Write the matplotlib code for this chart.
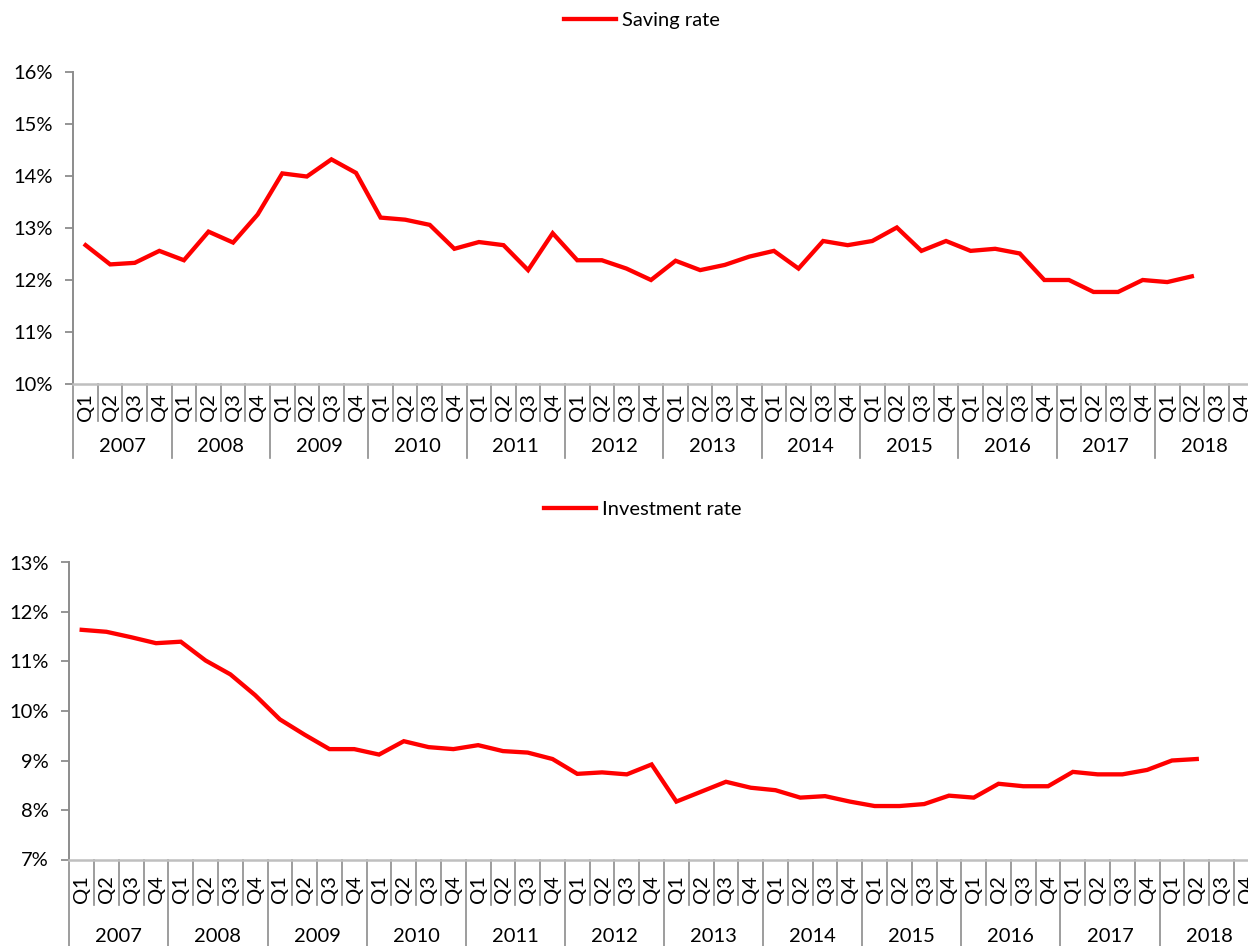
import matplotlib
matplotlib.use("Agg")
import matplotlib.pyplot as plt

plt.rcParams['font.family'] = ['Lato', 'DejaVu Sans']

# dados (%), 2007 Q1 ... 2018 Q2
anos = ['2007', '2008', '2009', '2010', '2011', '2012',
        '2013', '2014', '2015', '2016', '2017', '2018']
trimestres = ['Q1', 'Q2', 'Q3', 'Q4']

saving_rate = [12.67, 12.30, 12.33, 12.56, 12.38, 12.93, 12.72, 13.26,
               14.05, 13.99, 14.32, 14.06, 13.20, 13.16, 13.06, 12.60,
               12.73, 12.67, 12.19, 12.90, 12.38, 12.38, 12.22, 12.00,
               12.37, 12.19, 12.29, 12.45, 12.56, 12.22, 12.75, 12.67,
               12.75, 13.01, 12.56, 12.75, 12.56, 12.60, 12.51, 12.00,
               12.00, 11.77, 11.77, 12.00, 11.96, 12.07]

investment_rate = [11.64, 11.60, 11.49, 11.37, 11.40, 11.02, 10.74, 10.32,
                   9.83, 9.52, 9.23, 9.23, 9.12, 9.39, 9.27, 9.23,
                   9.31, 9.19, 9.16, 9.03, 8.73, 8.76, 8.72, 8.92,
                   8.17, 8.37, 8.57, 8.45, 8.40, 8.25, 8.28, 8.17,
                   8.08, 8.08, 8.12, 8.29, 8.25, 8.53, 8.48, 8.48,
                   8.77, 8.72, 8.72, 8.81, 9.00, 9.03]

W, H = 1248, 946
fig = plt.figure(figsize=(W / 100, H / 100), dpi=100)

VERMELHO = '#ff0000'
CINZA = '#8c8c8c'
CINZA_CLARO = '#bfbfbf'
FS = 14.5


def painel(rect_px, valores, ylim, label, leg_xy, q_off, qsep_off, ano_off, anosep_off):
    x0, y_top, x1, y_bot = rect_px
    ax = fig.add_axes([x0 / W, (H - y_bot) / H, (x1 - x0) / W, (y_bot - y_top) / H])
    altura = y_bot - y_top
    n_cat = len(anos) * len(trimestres)
    xs = [i + 0.5 for i in range(len(valores))]
    ax.plot(xs, valores, color=VERMELHO, lw=3.1, label=label, solid_joinstyle='miter')
    ax.set_xlim(0, n_cat)
    ax.set_ylim(*ylim)
    ax.set_yticks(range(ylim[0], ylim[1] + 1))
    ax.set_yticklabels([f'{v}%' for v in range(ylim[0], ylim[1] + 1)])
    ax.tick_params(axis='y', direction='out', length=6, width=1.3, color=CINZA,
                   labelsize=FS, pad=9)
    ax.set_xticks([])
    for s in ['top', 'right']:
        ax.spines[s].set_visible(False)
    ax.spines['left'].set_color(CINZA)
    ax.spines['left'].set_linewidth(1.4)
    ax.spines['bottom'].set_color(CINZA_CLARO)
    ax.spines['bottom'].set_linewidth(1.8)

    # eixo de categorias em dois níveis
    tr = ax.get_xaxis_transform()
    for i in range(n_cat + 1):
        fim = anosep_off if i % 4 == 0 else qsep_off
        ax.plot([i, i], [0, -fim / altura], color=CINZA, lw=1.2,
                transform=tr, clip_on=False)
    for i in range(n_cat):
        ax.text(i + 0.5, -q_off / altura, trimestres[i % 4], rotation=90,
                ha='center', va='center', fontsize=FS, transform=tr)
    for k, a in enumerate(anos):
        ax.text(4 * k + 2, -ano_off / altura, a, ha='center', va='center',
                fontsize=FS, transform=tr)

    ax.legend(loc='center', bbox_to_anchor=leg_xy, frameon=False, fontsize=FS,
              handlelength=2.6, handletextpad=0.3)
    return ax


painel((73.3, 72, 1253.3, 384), saving_rate, (10, 16), 'Saving rate',
       (0.482, 1.164), 23, 37, 62, 74)
painel((69.3, 562.5, 1258.7, 859.5), investment_rate, (7, 13), 'Investment rate',
       (0.482, 1.177), 30, 45, 77, 100)

plt.savefig('out.png', dpi=100)
